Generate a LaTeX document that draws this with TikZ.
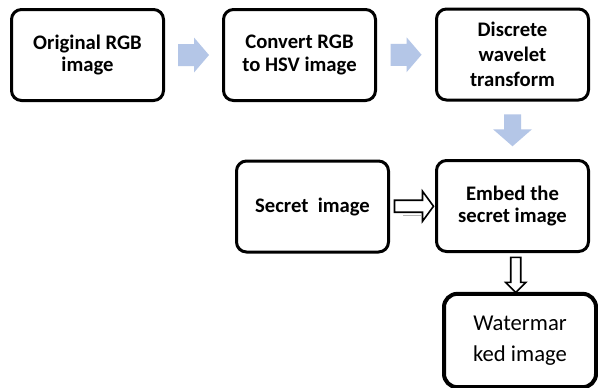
\documentclass[tikz,border=0pt]{standalone}
\usepackage{fontspec}
\setmainfont{Carlito}
\usetikzlibrary{calc}
\definecolor{flowblue}{RGB}{180,198,231}
\begin{document}
\begin{tikzpicture}[x=0.75pt,y=-0.75pt,
  stepbox/.style={draw=black, line width=2.25pt, rounded corners=7.5pt, fill=white,
    align=center, inner sep=0pt, minimum width=114pt, minimum height=68.25pt,
    font=\bfseries\fontsize{15.5}{17}\selectfont},
  finalbox/.style={draw=black, line width=3pt, rounded corners=10pt, fill=white,
    align=center, inner sep=0pt, minimum width=114pt, minimum height=70pt,
    font=\fontsize{17}{23}\selectfont},
  bluearrow/.pic={\fill[flowblue] (-15.5,-11) -- (0.5,-11) -- (0.5,-17.5) -- (15.5,0)
    -- (0.5,17.5) -- (0.5,11) -- (-15.5,11) -- cycle;},
  bluedown/.pic={\fill[flowblue] (-8.5,-16) -- (8.5,-16) -- (8.5,-1) -- (19.5,-1)
    -- (0,16) -- (-19.5,-1) -- (-8.5,-1) -- cycle;},
  hollowright/.pic={
    \draw[gray!60, line width=0.8pt] (-11,9.5) -- (7,9.5);
    \draw[line width=1.2pt, line join=miter, fill=white] (-19.5,-6) -- (8.5,-6) -- (8.5,-15)
    -- (19.5,0) -- (8.5,15) -- (8.5,6) -- (-19.5,6) -- cycle;},
  hollowdown/.pic={\draw[line width=1.2pt, line join=miter, fill=white] (-5,-17.5) -- (5,-17.5) -- (5,7.5)
    -- (10,7.5) -- (0,17.5) -- (-10,7.5) -- (-5,7.5) -- cycle;}]

% canvas
\fill[white] (0,0) rectangle (598,387);
\useasboundingbox (0,0) rectangle (598,387);

% processing steps
\node[stepbox] (orig) at (87.5,55) {Original RGB\\image};
\node[stepbox] (hsv) at (299.5,55) {Convert RGB\\to HSV image};
\node[stepbox, font=\bfseries\fontsize{15.5}{18.75}\selectfont] (dwt) at (512.5,54.5) {Discrete\\wavelet\\transform};
\node[stepbox] (secret) at (312.5,206.5) {Secret\ \ image};
\node[stepbox] (embed) at (512.5,206) {Embed the\\secret image};
\node[finalbox] (water) at (520,340.5) {Watermar\\ked image};

% flow arrows
\pic at ($(orig.east)!0.5!(hsv.west)$) {bluearrow};
\pic at ($(hsv.east)!0.5!(dwt.west)$) {bluearrow};
\pic at ($(dwt.south)!0.5!(embed.north)$) {bluedown};
\pic at ($(secret.east)!0.5!(embed.west)+(1.5,0)$) {hollowright};
\pic at ($(embed.south)!0.5!(water.north)+(-0.5,2.5)$) {hollowdown};
\end{tikzpicture}
\end{document}
